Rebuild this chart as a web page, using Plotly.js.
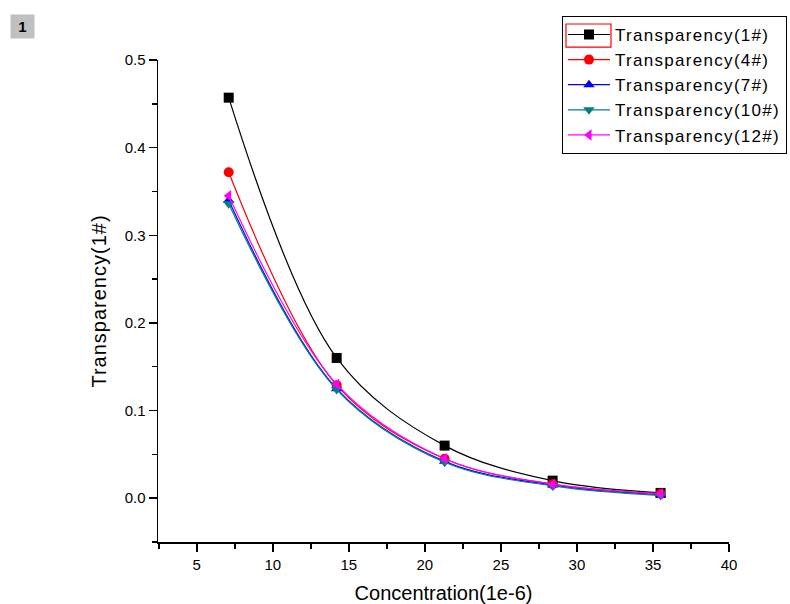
<!DOCTYPE html>
<html>
<head>
<meta charset="utf-8">
<script src="https://cdn.plot.ly/plotly-3.0.1.min.js"></script>
<style>
html,body{margin:0;padding:0;background:#fff;}
#chart{width:790px;height:604px;}
.legendtext{letter-spacing:1.3px;}
.ytitle{letter-spacing:1px;}
</style>
</head>
<body>
<div id="chart"></div>
<script>
const concentration = [7.1, 14.2, 21.3, 28.4, 35.5];
const seriesNames = ["Transparency(1#)", "Transparency(4#)", "Transparency(7#)", "Transparency(10#)", "Transparency(12#)"];
const t1  = [0.457, 0.160, 0.060, 0.020, 0.006];
const t4  = [0.372, 0.129, 0.045, 0.016, 0.005];
const t7  = [0.340, 0.125, 0.042, 0.015, 0.004];
const t10 = [0.336, 0.124, 0.041, 0.014, 0.003];
const t12 = [0.345, 0.130, 0.045, 0.016, 0.005];
const seriesValues = [t1, t4, t7, t10, t12];
const colors = ["#000000", "#ff0000", "#0000ff", "#008080", "#ff00ff"];
const symbols = ["square", "circle", "triangle-up", "triangle-down", "triangle-left"];

const traces = seriesValues.map((v, i) => ({
  x: concentration,
  y: v,
  name: seriesNames[i],
  type: "scatter",
  mode: "lines+markers",
  line: {color: colors[i], width: 1.2, shape: "spline", smoothing: 1.0},
  marker: {color: colors[i], symbol: symbols[i], size: 10}
}));

const font = "Liberation Sans, Arial, sans-serif";
const layout = {
  width: 790, height: 604,
  margin: {l: 158, r: 61, t: 60, b: 62, autoexpand: false},
  paper_bgcolor: "#ffffff",
  plot_bgcolor: "#ffffff",
  font: {family: font, color: "#000"},
  showlegend: true,
  legend: {
    x: 0.7075, y: 1.0914, xanchor: "left", yanchor: "top",
    bordercolor: "#000", borderwidth: 1, bgcolor: "rgba(255,255,255,0)",
    font: {family: font, size: 17, color: "#000"},
    itemwidth: 42,
    tracegroupgap: 0
  },
  xaxis: {
    range: [2.45, 40],
    tick0: 0, dtick: 5,
    ticks: "outside", ticklen: 8, tickwidth: 1.5, tickcolor: "#000",
    minor: {dtick: 2.5, ticks: "outside", ticklen: 5, tickwidth: 1.5, tickcolor: "#000", showgrid: false},
    showline: true, linecolor: "#000", linewidth: 1.5,
    showgrid: false, zeroline: false,
    tickfont: {family: font, size: 15, color: "#000"},
    title: {text: "Concentration(1e-6)", font: {family: font, size: 20, color: "#000"}, standoff: 16}
  },
  yaxis: {
    range: [-0.05, 0.5],
    tick0: 0, dtick: 0.1, tickformat: ".1f",
    ticks: "outside", ticklen: 8, tickwidth: 1.5, tickcolor: "#000",
    minor: {dtick: 0.05, ticks: "outside", ticklen: 5, tickwidth: 1.5, tickcolor: "#000", showgrid: false},
    showline: true, linecolor: "#000", linewidth: 1.5,
    showgrid: false, zeroline: false,
    tickfont: {family: font, size: 15, color: "#000"},
    title: {text: "Transparency(1#)", font: {family: font, size: 20, color: "#000"}, standoff: 12}
  },
  shapes: [
    {type: "rect", xref: "paper", yref: "paper", x0: 0.7145, x1: 0.7933, y0: 1.0269, y1: 1.0747,
     line: {color: "#ff0000", width: 1.2}, fillcolor: "rgba(0,0,0,0)", layer: "above"}
  ],
  annotations: [
    {text: "<b>1</b>", xref: "paper", yref: "paper", x: (10 - 158) / 571, y: (542 - 14) / 482,
     xanchor: "left", yanchor: "top", showarrow: false,
     bgcolor: "#c0c0c0", width: 19, height: 19, font: {family: font, size: 15, color: "#000"}, borderpad: 2}
  ]
};

Plotly.newPlot("chart", traces, layout, {displayModeBar: false, staticPlot: true});
</script>
</body>
</html>
